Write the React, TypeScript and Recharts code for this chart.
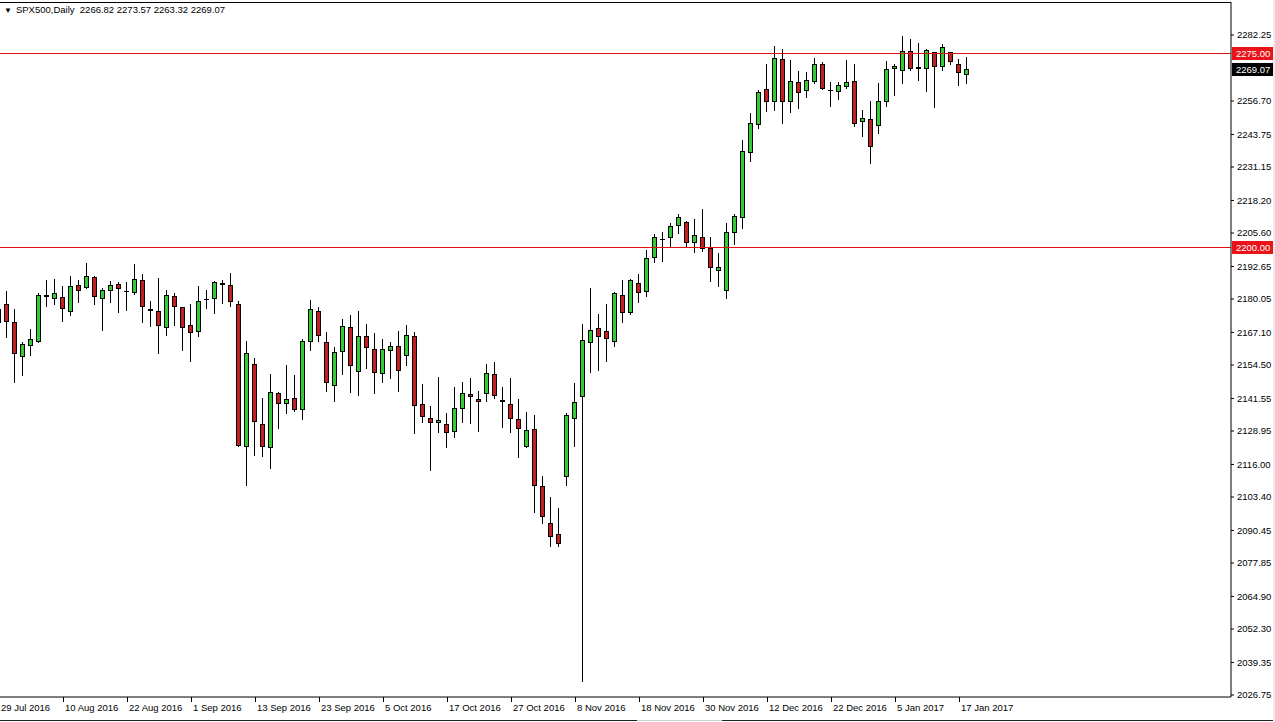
import React from "react";
import { ComposedChart, Bar, XAxis, YAxis, ReferenceLine } from "recharts";

const symbol = "SPX500,Daily";

const dates = [
  "29 Jul 2016", "1 Aug 2016", "2 Aug 2016", "3 Aug 2016", "4 Aug 2016", "5 Aug 2016", "8 Aug 2016", "9 Aug 2016",
  "10 Aug 2016", "11 Aug 2016", "12 Aug 2016", "15 Aug 2016", "16 Aug 2016", "17 Aug 2016", "18 Aug 2016", "19 Aug 2016",
  "22 Aug 2016", "23 Aug 2016", "24 Aug 2016", "25 Aug 2016", "26 Aug 2016", "29 Aug 2016", "30 Aug 2016", "31 Aug 2016",
  "1 Sep 2016", "2 Sep 2016", "5 Sep 2016", "6 Sep 2016", "7 Sep 2016", "8 Sep 2016", "9 Sep 2016", "12 Sep 2016",
  "13 Sep 2016", "14 Sep 2016", "15 Sep 2016", "16 Sep 2016", "19 Sep 2016", "20 Sep 2016", "21 Sep 2016", "22 Sep 2016",
  "23 Sep 2016", "26 Sep 2016", "27 Sep 2016", "28 Sep 2016", "29 Sep 2016", "30 Sep 2016", "3 Oct 2016", "4 Oct 2016",
  "5 Oct 2016", "6 Oct 2016", "7 Oct 2016", "10 Oct 2016", "11 Oct 2016", "12 Oct 2016", "13 Oct 2016", "14 Oct 2016",
  "17 Oct 2016", "18 Oct 2016", "19 Oct 2016", "20 Oct 2016", "21 Oct 2016", "24 Oct 2016", "25 Oct 2016", "26 Oct 2016",
  "27 Oct 2016", "28 Oct 2016", "31 Oct 2016", "1 Nov 2016", "2 Nov 2016", "3 Nov 2016", "4 Nov 2016", "7 Nov 2016",
  "8 Nov 2016", "9 Nov 2016", "10 Nov 2016", "11 Nov 2016", "14 Nov 2016", "15 Nov 2016", "16 Nov 2016", "17 Nov 2016",
  "18 Nov 2016", "21 Nov 2016", "22 Nov 2016", "23 Nov 2016", "24 Nov 2016", "25 Nov 2016", "28 Nov 2016", "29 Nov 2016",
  "30 Nov 2016", "1 Dec 2016", "2 Dec 2016", "5 Dec 2016", "6 Dec 2016", "7 Dec 2016", "8 Dec 2016", "9 Dec 2016",
  "12 Dec 2016", "13 Dec 2016", "14 Dec 2016", "15 Dec 2016", "16 Dec 2016", "19 Dec 2016", "20 Dec 2016", "21 Dec 2016",
  "22 Dec 2016", "23 Dec 2016", "27 Dec 2016", "28 Dec 2016", "29 Dec 2016", "30 Dec 2016", "3 Jan 2017", "4 Jan 2017",
  "5 Jan 2017", "6 Jan 2017", "9 Jan 2017", "10 Jan 2017", "11 Jan 2017", "12 Jan 2017", "13 Jan 2017", "16 Jan 2017",
  "17 Jan 2017", "18 Jan 2017",
];

const opens = [
  2170.76, 2178.12, 2171.15, 2157.71, 2161.97, 2163.52, 2181.6, 2179.93, 2180.71, 2175.14, 2185.47, 2184.19, 2188.45, 2179.93, 2183.26, 2185.86,
  2183.03, 2182.26, 2187.41, 2176.06, 2175.41, 2168.71, 2181.21, 2176.76, 2169.87, 2167.39, 2179.9, 2179.93, 2186.13, 2185.47, 2178.12, 2122.87,
  2154.77, 2131.54, 2122.25, 2143.55, 2139.4, 2141.61, 2137.2, 2163.29, 2175.41, 2163.29, 2146.49, 2159.65, 2169.1, 2151.91, 2165.73, 2160.58,
  2150.9, 2160.04, 2161.86, 2158.1, 2165.73, 2139.29, 2133.87, 2132.24, 2131.54, 2128.68, 2137.58, 2143.2, 2141.34, 2143.16, 2150.9, 2140.95,
  2139.4, 2133.48, 2122.87, 2129.61, 2107.78, 2093.22, 2088.96, 2111.26, 2133.48, 2142.0, 2162.9, 2168.71, 2167.66, 2163.52, 2181.48, 2174.75,
  2186.13, 2182.64, 2195.81, 2203.28, 2203.55, 2208.43, 2209.98, 2201.85, 2203.94, 2199.68, 2191.01, 2183.15, 2205.48, 2211.29, 2236.45, 2247.41,
  2261.23, 2256.2, 2272.84, 2256.2, 2263.94, 2260.69, 2264.17, 2271.02, 2261.0, 2260.3, 2262.0, 2264.44, 2248.69, 2249.62, 2247.14, 2256.43,
  2268.97, 2268.43, 2276.06, 2269.75, 2268.97, 2275.48, 2269.75, 2275.48, 2271.02, 2266.82,
];

const highs = [
  2179.66, 2183.15, 2176.06, 2163.52, 2168.44, 2182.49, 2187.41, 2187.68, 2185.08, 2188.95, 2187.41, 2193.87, 2188.95, 2184.19, 2187.02, 2186.52,
  2186.52, 2193.6, 2189.73, 2179.39, 2188.06, 2183.54, 2182.49, 2176.84, 2178.12, 2185.08, 2183.54, 2187.02, 2187.41, 2190.23, 2179.39, 2163.79,
  2157.09, 2141.84, 2151.02, 2144.16, 2154.5, 2150.63, 2164.45, 2179.66, 2176.84, 2167.16, 2161.35, 2172.19, 2173.86, 2175.41, 2170.37, 2167.0,
  2164.45, 2163.52, 2167.66, 2169.99, 2167.16, 2147.15, 2138.63, 2149.74, 2135.8, 2145.87, 2147.8, 2149.35, 2144.44, 2154.89, 2155.55, 2145.87,
  2149.35, 2141.34, 2136.19, 2135.15, 2111.53, 2103.28, 2099.03, 2135.8, 2147.42, 2170.37, 2184.19, 2174.24, 2178.12, 2182.88, 2187.41, 2187.79,
  2189.73, 2199.02, 2205.21, 2205.87, 2209.36, 2212.96, 2210.36, 2210.9, 2214.78, 2203.94, 2197.74, 2209.36, 2212.96, 2241.6, 2251.94, 2260.96,
  2271.02, 2277.99, 2276.72, 2272.57, 2268.31, 2267.81, 2273.23, 2271.68, 2263.94, 2263.94, 2272.57, 2271.02, 2253.22, 2256.7, 2263.55, 2272.19,
  2271.02, 2281.86, 2280.7, 2279.04, 2276.83, 2275.55, 2278.65, 2275.55, 2272.84, 2273.57,
];

const lows = [
  2168.82, 2165.07, 2147.42, 2150.36, 2157.99, 2163.2, 2177.07, 2177.73, 2171.26, 2173.59, 2178.62, 2183.8, 2177.73, 2167.78, 2178.39, 2174.51,
  2175.52, 2181.6, 2170.88, 2169.33, 2158.76, 2165.73, 2169.6, 2160.04, 2155.78, 2165.46, 2176.18, 2174.24, 2178.12, 2176.84, 2122.6, 2107.58,
  2119.39, 2119.0, 2114.24, 2129.73, 2135.41, 2136.19, 2133.21, 2159.92, 2163.52, 2144.16, 2140.29, 2150.63, 2143.78, 2142.62, 2152.95, 2143.16,
  2147.42, 2148.97, 2144.16, 2154.11, 2127.79, 2132.16, 2113.58, 2128.29, 2122.49, 2126.43, 2132.16, 2131.85, 2128.68, 2140.3, 2141.22, 2130.23,
  2128.29, 2118.38, 2122.25, 2097.09, 2092.83, 2083.93, 2084.16, 2107.78, 2122.87, 2031.9, 2151.52, 2152.3, 2155.78, 2161.58, 2170.88, 2173.86,
  2178.62, 2180.94, 2194.1, 2194.49, 2200.06, 2205.1, 2200.3, 2197.74, 2198.13, 2186.75, 2184.81, 2179.93, 2200.96, 2207.03, 2233.2, 2245.75,
  2252.56, 2252.83, 2247.8, 2251.94, 2253.6, 2257.75, 2263.28, 2260.96, 2254.49, 2257.09, 2261.35, 2246.75, 2242.88, 2232.31, 2243.81, 2254.49,
  2258.64, 2263.17, 2268.43, 2264.56, 2260.3, 2253.88, 2268.31, 2270.64, 2262.62, 2263.32,
];

const closes = [
  2176.18, 2171.03, 2158.64, 2162.51, 2164.45, 2181.6, 2180.71, 2182.26, 2176.06, 2185.08, 2183.26, 2188.95, 2180.71, 2183.54, 2185.47, 2183.8,
  2183.15, 2187.68, 2177.07, 2175.52, 2169.71, 2181.6, 2176.84, 2168.94, 2167.01, 2179.28, 2180.0, 2186.63, 2185.35, 2178.77, 2123.14, 2159.03,
  2132.55, 2122.87, 2143.93, 2139.29, 2141.34, 2136.97, 2163.79, 2176.06, 2165.84, 2147.42, 2159.42, 2169.6, 2154.23, 2165.73, 2160.97, 2151.29,
  2160.58, 2161.86, 2152.29, 2166.11, 2138.82, 2134.18, 2132.24, 2133.21, 2128.06, 2137.74, 2143.55, 2142.0, 2140.3, 2151.29, 2142.5, 2140.06,
  2133.48, 2129.61, 2129.34, 2107.78, 2095.54, 2088.03, 2085.09, 2135.15, 2140.3, 2164.18, 2168.05, 2165.22, 2164.45, 2182.26, 2174.75, 2187.41,
  2182.49, 2195.81, 2203.94, 2203.35, 2208.31, 2211.68, 2201.61, 2204.83, 2199.29, 2191.93, 2192.55, 2206.18, 2212.18, 2237.34, 2248.07, 2260.07,
  2256.43, 2273.23, 2256.43, 2264.44, 2259.68, 2264.83, 2271.02, 2261.35, 2260.9, 2262.89, 2264.17, 2247.8, 2250.24, 2239.01, 2256.7, 2269.09,
  2270.25, 2276.06, 2269.09, 2268.97, 2276.44, 2269.75, 2277.49, 2271.91, 2267.42, 2269.07,
];

const dateLabels = [
  "29 Jul 2016", "10 Aug 2016", "22 Aug 2016", "1 Sep 2016", "13 Sep 2016", "23 Sep 2016", "5 Oct 2016", "17 Oct 2016",
  "27 Oct 2016", "8 Nov 2016", "18 Nov 2016", "30 Nov 2016", "12 Dec 2016", "22 Dec 2016", "5 Jan 2017", "17 Jan 2017",
];

const yTicks = [
  2282.25, 2256.7, 2243.75, 2231.15, 2218.2, 2205.6, 2192.65, 2180.05, 2167.1, 2154.5, 2141.55,
  2128.95, 2116.0, 2103.4, 2090.45, 2077.85, 2064.9, 2052.3, 2039.35, 2026.75,
];

const levels = [2275.0, 2200.0];
const lastPrice = closes[closes.length - 1];

// empty slots on the right, like the chart shift in the terminal
const emptySlots = 32;

const rows: any[] = dates.map((d, i) => ({
  date: d,
  open: opens[i],
  high: highs[i],
  low: lows[i],
  close: closes[i],
  range: [lows[i], highs[i]],
}));
for (let i = 0; i < emptySlots; i++) rows.push({ date: `slot${i}` });

// scale: top tick sits 33px below the frame, bottom tick 2px above it
const pxPerPt = 660 / (yTicks[0] - yTicks[yTicks.length - 1]);
const yMax = yTicks[0] + 33 / pxPerPt;
const yMin = yTicks[yTicks.length - 1] - 2 / pxPerPt;

const FONT = "'Liberation Sans', Arial, sans-serif";
const UP = "#33CC33";
const DOWN = "#C41E1E";
const LEVEL = "#E01010";

const Candle = (props: any) => {
  const { x, y, width, height, payload } = props;
  if (!payload || payload.high == null) return null;
  const { open, close, high, low } = payload;
  const top = Math.min(y, y + height);
  const h = Math.abs(height);
  const py = (v: number) => top + ((high - v) / (high - low)) * h;
  const cx = Math.round(x + width / 2 - 0.5);
  const wickTop = Math.round(top);
  const wickBot = Math.round(top + h);
  const bTop = Math.round(Math.min(py(open), py(close)));
  const bBot = Math.round(Math.max(py(open), py(close)));
  const up = close >= open;
  return (
    <g>
      <rect x={cx} y={wickTop} width={1} height={Math.max(1, wickBot - wickTop)} fill="#000" />
      {bBot - bTop < 2 ? (
        <rect x={cx - 2} y={bTop} width={5} height={1} fill="#000" />
      ) : (
        <rect
          x={cx - 1.5}
          y={bTop + 0.5}
          width={4}
          height={bBot - bTop - 1}
          fill={up ? UP : DOWN}
          stroke="#000"
          strokeWidth={1}
        />
      )}
    </g>
  );
};

const DateTick = (props: any) => {
  const { x, y, payload } = props;
  if (!dateLabels.includes(payload.value)) return <g />;
  const px = Math.round(x) + 0.5;
  return (
    <g>
      <line x1={px} y1={y} x2={px} y2={y + 5} stroke="#000" />
      <text x={px + 1.5} y={y + 14} fontSize={9.5} fontFamily={FONT} fill="#000">
        {payload.value}
      </text>
    </g>
  );
};

// crisp 1px horizontal line
const crispLine = (color: string) => (p: any) => {
  const yy = Math.floor(p.y1) + 0.5;
  return <line x1={p.x1} x2={p.x2} y1={yy} y2={yy} stroke={color} strokeWidth={1} />;
};

const priceTag = (value: number, bg: string) => (p: any) => {
  const vb = p.viewBox || {};
  const x = vb.x + vb.width + 1;
  const yy = Math.floor(vb.y);
  return (
    <g>
      <rect x={x} y={yy - 6} width={42} height={13} fill={bg} />
      <text x={x + 4} y={yy + 4} fontSize={9.5} fontFamily={FONT} fill="#fff">
        {value.toFixed(2)}
      </text>
    </g>
  );
};

export default function App() {
  const last = opens.length - 1;
  return (
    <div style={{ position: "absolute", left: 0, top: 0, width: 1275, height: 722, background: "#fff", overflow: "hidden" }}>
      <div style={{ position: "absolute", left: -5, top: 0 }}>
        <ComposedChart width={1280} height={722} data={rows} margin={{ top: 2, right: 0, bottom: 0, left: 0 }}>
          <XAxis
            dataKey="date"
            interval={0}
            height={25}
            tickSize={0}
            tickMargin={0}
            axisLine={{ stroke: "#000" }}
            tickLine={false}
            tick={<DateTick />}
            padding={{ left: 0, right: 4 }}
          />
          <YAxis
            orientation="right"
            type="number"
            domain={[yMin, yMax]}
            ticks={yTicks}
            interval={0}
            allowDataOverflow
            width={44}
            tickSize={3}
            tickMargin={3}
            axisLine={{ stroke: "#000" }}
            tickLine={{ stroke: "#000" }}
            tick={{ fontSize: 9.5, fill: "#000", fontFamily: FONT }}
            tickFormatter={(v: number) => v.toFixed(2)}
          />
          <ReferenceLine y={yMax} stroke="#000" shape={crispLine("#000")} />
          {levels.map((lv) => (
            <ReferenceLine key={lv} y={lv} stroke={LEVEL} shape={crispLine(LEVEL)} label={priceTag(lv, "#E8141A")} />
          ))}
          <ReferenceLine y={lastPrice} stroke="none" label={priceTag(lastPrice, "#000")} />
          <Bar dataKey="range" isAnimationActive={false} shape={(p: any) => <Candle {...p} />} />
        </ComposedChart>
      </div>
      <div
        style={{
          position: "absolute",
          left: 4,
          top: 4,
          fontFamily: FONT,
          fontSize: 9.5,
          whiteSpace: "pre",
          color: "#000",
          lineHeight: "12px",
        }}
      >
        <span style={{ fontSize: 8, marginRight: 4 }}>▼</span>
        {`${symbol}  ${opens[last].toFixed(2)} ${highs[last].toFixed(2)} ${lows[last].toFixed(2)} ${closes[last].toFixed(2)}`}
      </div>
      <div style={{ position: "absolute", left: 0, top: 720, width: 637, height: 1, background: "#222" }} />
      <div style={{ position: "absolute", left: 637, top: 720, width: 85, height: 1, background: "#cfcfcf" }} />
      <div style={{ position: "absolute", left: 722, top: 720, width: 553, height: 1, background: "#222" }} />
      <div style={{ position: "absolute", left: 1273, top: 0, width: 2, height: 722, background: "#ececec" }} />
    </div>
  );
}
